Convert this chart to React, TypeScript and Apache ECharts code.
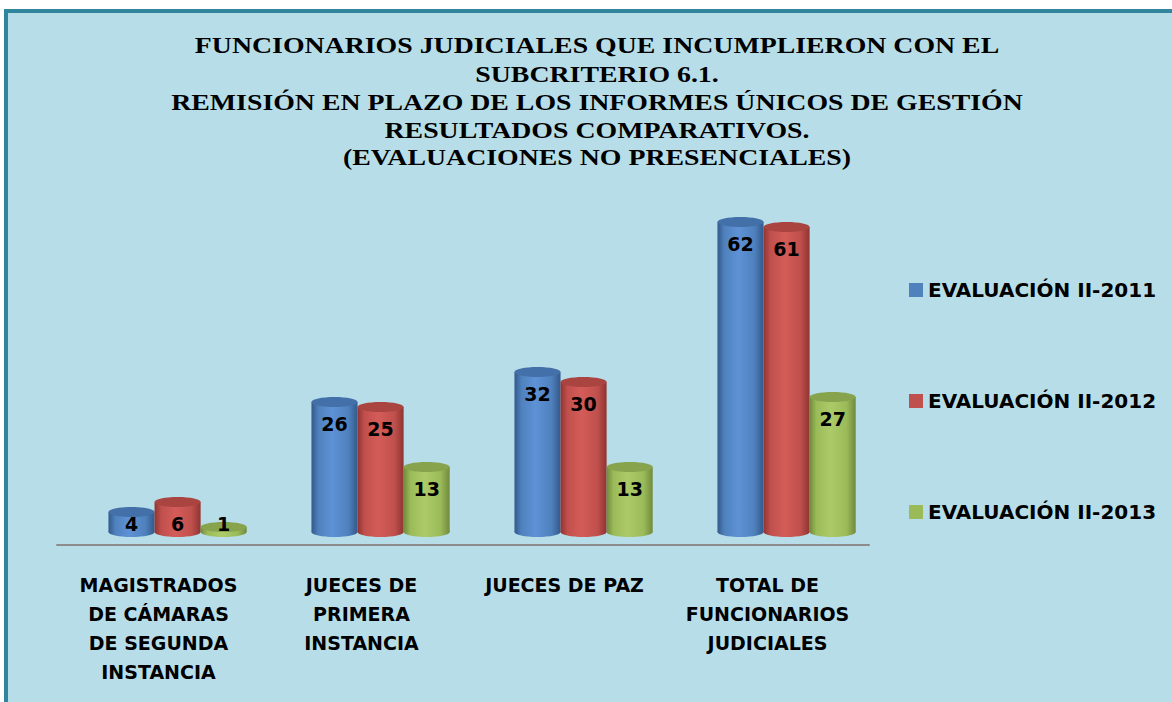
import React, { useEffect, useRef } from "react";
import * as echarts from "echarts";

const categories = [
  "MAGISTRADOS\nDE CÁMARAS\nDE SEGUNDA\nINSTANCIA",
  "JUECES DE\nPRIMERA\nINSTANCIA",
  "JUECES DE PAZ",
  "TOTAL DE\nFUNCIONARIOS\nJUDICIALES",
];
const seriesNames = ["EVALUACIÓN II-2011", "EVALUACIÓN II-2012", "EVALUACIÓN II-2013"];
const values2011 = [4, 26, 32, 62];
const values2012 = [6, 25, 30, 61];
const values2013 = [1, 13, 13, 27];
const titleLines = [
  "FUNCIONARIOS JUDICIALES QUE INCUMPLIERON CON EL",
  "SUBCRITERIO 6.1.",
  "REMISIÓN EN PLAZO DE LOS INFORMES ÚNICOS DE GESTIÓN",
  "RESULTADOS COMPARATIVOS.",
  "(EVALUACIONES NO PRESENCIALES)",
];

const palettes = [
  { base: "#4F81BD", dark: "#33598c", light: "#5e92d6", top: "#4470a9" },
  { base: "#C0504D", dark: "#8f3431", light: "#d45c58", top: "#a94440" },
  { base: "#9BBB59", dark: "#718a3d", light: "#acca68", top: "#87a34c" },
];

const allValues = [values2011, values2012, values2013];

export default function App() {
  const ref = useRef<HTMLDivElement>(null);
  useEffect(() => {
    if (!ref.current) return;
    const chart = echarts.init(ref.current, null, { renderer: "svg" });
    const titleY = [45, 74, 102.5, 130, 157.5];

    const makeRender = (sIdx: number) => (params: any, api: any) => {
      const cat = api.value(0);
      const v = api.value(1);
      const base = api.coord([cat, 0]);
      const top = api.coord([cat, v]);
      const band = api.size([1, 0])[0];
      const bw = band * 0.227;
      const cx = base[0] + band * 0.094 + (sIdx - 1) * bw;
      const x0 = cx - bw / 2;
      const ry = 5;
      const p = palettes[sIdx];
      const grad = new echarts.graphic.LinearGradient(0, 0, 1, 0, [
        { offset: 0, color: p.dark },
        { offset: 0.15, color: p.base },
        { offset: 0.45, color: p.light },
        { offset: 0.8, color: p.base },
        { offset: 1, color: p.dark },
      ]);
      const labelY = Math.min(top[1] + 22, base[1] - 8);
      return {
        type: "group",
        children: [
          { type: "ellipse", shape: { cx, cy: base[1], rx: bw / 2, ry }, style: { fill: grad } },
          {
            type: "rect",
            shape: { x: x0, y: top[1], width: bw, height: base[1] - top[1] },
            style: { fill: grad },
          },
          { type: "ellipse", shape: { cx, cy: top[1], rx: bw / 2, ry }, style: { fill: p.top } },
          {
            type: "text",
            style: {
              text: String(v),
              x: cx,
              y: labelY,
              align: "center",
              verticalAlign: "middle",
              fontFamily: "DejaVu Sans",
              fontWeight: "bold",
              fontSize: 19,
              fill: "#000",
            },
          },
        ],
      };
    };

    chart.setOption({
      animation: false,
      backgroundColor: "transparent",
      graphic: titleLines.map((t, i) => ({
        type: "text",
        x: 597,
        y: titleY[i],
        scaleX: 1.21,
        style: {
          text: t,
          align: "center",
          verticalAlign: "middle",
          fontFamily: "Liberation Serif",
          fontWeight: "bold",
          fontSize: 23,
          fill: "#000",
        },
      })),
      legend: {
        orient: "vertical",
        left: 909,
        top: 280,
        padding: 0,
        itemGap: 91,
        itemWidth: 14,
        itemHeight: 14,
        icon: "rect",
        data: seriesNames,
        textStyle: {
          fontFamily: "DejaVu Sans",
          fontWeight: "bold",
          fontSize: 20,
          lineHeight: 20,
          color: "#000",
        },
      },
      grid: { left: 57, right: 303, top: 182, bottom: 170 },
      xAxis: {
        type: "category",
        data: categories,
        offset: 13,
        axisLine: { onZero: false, lineStyle: { color: "#8c8c8c", width: 2 } },
        axisTick: { show: false },
        axisLabel: {
          interval: 0,
          margin: 25,
          fontFamily: "DejaVu Sans",
          fontWeight: "bold",
          fontSize: 19,
          lineHeight: 29,
          color: "#000",
        },
      },
      yAxis: { type: "value", min: 0, max: 70, show: false, splitLine: { show: false } },
      series: seriesNames.map((name, s) => ({
        name,
        type: "custom",
        renderItem: makeRender(s),
        itemStyle: { color: palettes[s].base },
        encode: { x: 0, y: 1 },
        data: allValues[s].map((v, i) => [i, v]),
      })),
    });
    return () => chart.dispose();
  }, []);

  return (
    <div style={{ position: "absolute", left: 0, top: 0, width: 1172, height: 702, background: "#fff", overflow: "hidden" }}>
      <div
        style={{
          position: "absolute",
          left: 4,
          top: 9,
          width: 1180,
          height: 700,
          background: "#B7DEE8",
          borderTop: "4px solid #31859C",
          borderLeft: "4px solid #31859C",
        }}
      />
      <div ref={ref} style={{ position: "absolute", left: 0, top: 0, width: 1172, height: 702 }} />
    </div>
  );
}
